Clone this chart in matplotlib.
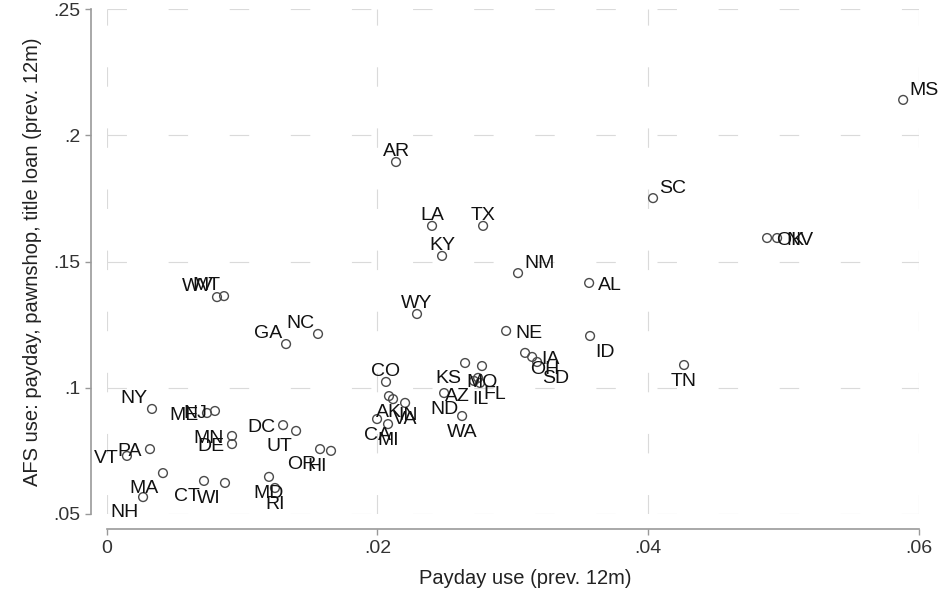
import matplotlib
matplotlib.use("Agg")
import matplotlib.pyplot as plt

# ---- data ----
states = ["MS", "SC", "OK", "NV", "AR", "LA", "TX", "KY", "NM", "AL",
          "WY", "NE", "ID", "TN", "GA", "NC", "WV", "MT", "CO", "NY",
          "ME", "NJ", "DC", "UT", "MN", "DE", "OR", "HI", "PA", "VT",
          "MA", "NH", "CT", "WI", "MD", "RI", "KS", "MO", "FL", "AZ",
          "IL", "ND", "WA", "OH", "IA", "SD", "AK", "IN", "VA", "CA", "MI"]
payday = [0.05883, 0.04036, 0.04878, 0.04952, 0.02138, 0.02404, 0.02781, 0.02478, 0.03039, 0.03564,
          0.02293, 0.02951, 0.03571, 0.04265, 0.01326, 0.01562, 0.00816, 0.00868, 0.02064, 0.00336,
          0.00742, 0.00801, 0.01304, 0.01400, 0.00927, 0.00927, 0.01577, 0.01658, 0.00321, 0.00151,
          0.00417, 0.00270, 0.00720, 0.00875, 0.01200, 0.01244, 0.02648, 0.02773, 0.02744, 0.02714,
          0.02758, 0.02493, 0.02626, 0.03091, 0.03143, 0.03180, 0.02086, 0.02116, 0.02205, 0.01998, 0.02079]
afs = [0.2140, 0.1751, 0.1593, 0.1593, 0.1894, 0.1641, 0.1641, 0.1522, 0.1454, 0.1415,
       0.1292, 0.1225, 0.1205, 0.1090, 0.1173, 0.1213, 0.1359, 0.1363, 0.1023, 0.0916,
       0.0900, 0.0908, 0.0852, 0.0829, 0.0809, 0.0777, 0.0757, 0.0750, 0.0757, 0.0730,
       0.0662, 0.0567, 0.0631, 0.0623, 0.0647, 0.0603, 0.1098, 0.1086, 0.1039, 0.1027,
       0.1019, 0.0979, 0.0888, 0.1138, 0.1122, 0.1102, 0.0967, 0.0955, 0.0940, 0.0876, 0.0856]
xticks = [0, 0.02, 0.04, 0.06]
xticklabels = ["0", ".02", ".04", ".06"]
yticks = [0.05, 0.10, 0.15, 0.20, 0.25]
yticklabels = [".05", ".1", ".15", ".2", ".25"]

# ---- label placement (Stata-style clock positions) ----
clock = {"MS": 1, "SC": 1, "OK": 3, "NV": 3, "AR": 12, "LA": 12, "TX": 12, "KY": 12,
         "NM": 1, "AL": 3, "WY": 12, "NE": 3, "ID": 5, "TN": 6, "GA": 11, "NC": 11,
         "WV": 11, "MT": 11, "CO": 12, "NY": 11, "ME": 9, "NJ": 9, "DC": 9, "UT": 7,
         "MN": 9, "DE": 9, "OR": 7, "HI": 7, "PA": 9, "VT": 9, "MA": 7, "NH": 7,
         "CT": 7, "WI": 7, "MD": 6, "RI": 6, "KS": 7, "MO": 6, "FL": 5, "AZ": 7,
         "IL": 6, "ND": 6, "WA": 6, "OH": 5, "IA": 3, "SD": 5, "AK": 6, "IN": 5,
         "VA": 6, "CA": 6, "MI": 6}
offsets = {12: (0, 6, "center"), 1: (6, 5, "left"), 3: (9, -7, "left"),
           5: (5, -21, "left"), 6: (0, -21, "center"), 7: (-4, -20, "right"),
           9: (-8, -7, "right"), 11: (-4, 6, "right")}

plt.rcParams["font.family"] = ["Liberation Sans", "DejaVu Sans"]
plt.rcParams["lines.scale_dashes"] = False

fig = plt.figure(figsize=(9.4, 5.96), dpi=100)
ax = fig.add_axes([106.5 / 940, 82 / 596, 812.5 / 940, 505 / 596])

ax.scatter(payday, afs, s=40, facecolors="none", edgecolors="#4a4a4a",
           linewidths=1.0, zorder=3)

for s, x, y in zip(states, payday, afs):
    dx, dy, ha = offsets[clock[s]]
    ax.annotate(s, (x, y), xytext=(dx, dy), textcoords="offset pixels",
                ha=ha, va="baseline", fontsize=14, color="#111111", zorder=4)

ax.set_xlim(0, 0.06)
ax.set_ylim(0.05, 0.25)
ax.set_xticks(xticks)
ax.set_xticklabels(xticklabels)
ax.set_yticks(yticks)
ax.set_yticklabels(yticklabels)

ax.grid(True, color="#dadada", linestyle=(0, (14, 30)), linewidth=0.8, zorder=0)
ax.set_axisbelow(True)

for side in ["top", "right"]:
    ax.spines[side].set_visible(False)
spine_col = "#999999"
ax.spines["left"].set_position(("outward", 11))
ax.spines["bottom"].set_position(("outward", 11))
ax.spines["left"].set_bounds(0.05, 0.25)
ax.spines["bottom"].set_bounds(0, 0.06)
for side in ["left", "bottom"]:
    ax.spines[side].set_color(spine_col)
    ax.spines[side].set_linewidth(1.2)

ax.tick_params(axis="both", direction="out", length=4.5, width=1.0,
               color=spine_col, labelsize=14, labelcolor="#333333", pad=3.5)

ax.set_xlabel("Payday use (prev. 12m)", fontsize=14.5, color="#222222")
ax.xaxis.set_label_coords(0.515, -0.108)
ax.set_ylabel("AFS use: payday, pawnshop, title loan (prev. 12m)", fontsize=14.5,
              color="#222222", labelpad=8)

fig.savefig("out.png", dpi=100, facecolor="white")
